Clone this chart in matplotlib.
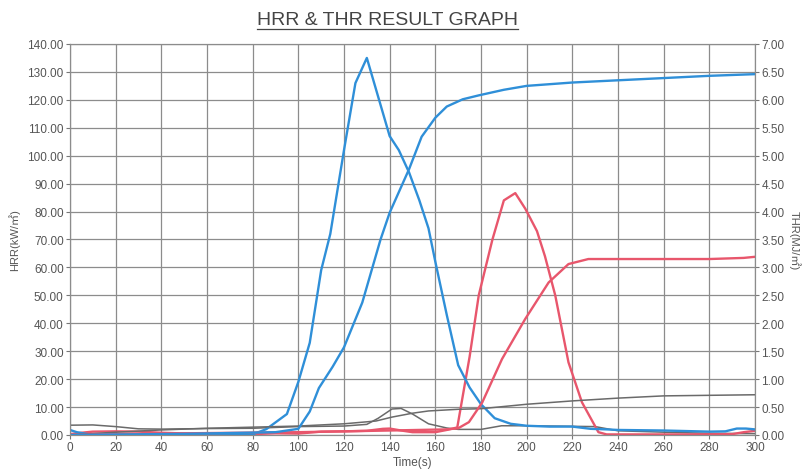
import numpy as np
import matplotlib.pyplot as plt
from matplotlib.lines import Line2D

# Sample 1 (blue)
blue_hrr_t = [0, 3, 8, 20, 40, 60, 80, 86, 90, 95, 100, 105, 110, 114, 120, 125, 130,
              135, 140, 144, 148.5, 153, 157, 160, 165, 170, 175, 180, 186, 193, 200,
              210, 220, 228, 235, 240, 260, 280, 287, 292, 296, 300]
blue_hrr = [1.8, 1.0, 0.3, 0.2, 0.3, 0.2, 0.2, 2.1, 4.5, 7.5, 19, 33, 59, 72, 102, 126, 135,
            121, 107, 102, 94, 84, 74, 62, 43, 25, 17, 11, 6, 4, 3.3,
            3, 3, 2.2, 2, 1.8, 1.6, 1.2, 1.3, 2.3, 2.3, 2]
blue_thr_t = [0, 50, 90, 100, 105, 109, 115, 120, 128, 136, 140, 148.5, 154, 160, 165,
              172, 179, 190, 200, 220, 240, 260, 280, 300]
blue_thr = [0, 0.02, 0.05, 0.11, 0.42, 0.84, 1.22, 1.57, 2.37, 3.5, 3.98, 4.76, 5.34, 5.68, 5.88,
            6.01, 6.08, 6.18, 6.25, 6.31, 6.35, 6.39, 6.43, 6.46]

# Sample 2 (red)
red_hrr_t = [0, 5, 10, 20, 30, 40, 60, 80, 90, 100, 110, 120, 130, 137, 140, 145, 150, 160,
             165, 169.6, 175, 179, 185, 190, 195, 199.4, 204.5, 208, 212.5, 218.3, 224.2,
             231.4, 235, 250, 270, 290, 295, 300]
red_hrr = [0.3, 0.8, 1.2, 1.3, 1.2, 0.8, 0.3, 0.3, 0.6, 0.5, 1.2, 1.3, 1.5, 2.2, 2.3, 1.6, 1.0, 1.0,
           1.8, 2.7, 28, 50, 70, 84, 86.6, 81, 73, 64, 50, 26, 11.7,
           1.0, 0.2, 0.2, 0.2, 0.3, 1.0, 1.5]
red_thr_t = [0, 50, 100, 140, 165, 170, 174.7, 180.5, 189.2, 199.4, 209.6, 218.3, 227, 240,
             280, 295, 300]
red_thr = [0, 0.03, 0.05, 0.08, 0.1, 0.12, 0.23, 0.58, 1.36, 2.08, 2.73, 3.06, 3.15, 3.15,
           3.15, 3.17, 3.19]

# Sample 3 (gray)
gray_hrr_t = [0, 10, 20, 30, 40, 60, 80, 100, 120, 130, 135, 141, 145, 150, 157, 165, 170,
              180, 189, 200, 230, 240, 260, 280, 300]
gray_hrr = [3.5, 3.6, 3.0, 2.2, 2.1, 2.3, 2.4, 3.0, 3.2, 3.8, 6.0, 9.3, 9.5, 7.5, 4.0, 2.5, 2.0,
            2.0, 3.3, 3.3, 3.0, 1.5, 1.0, 0.6, 0.5]
gray_thr_t = [0, 20, 40, 60, 80, 100, 120, 134, 141, 150, 157, 170, 180, 190, 200, 220, 240,
              260, 280, 300]
gray_thr = [0, 0.05, 0.09, 0.12, 0.14, 0.16, 0.2, 0.25, 0.32, 0.39, 0.43, 0.46, 0.47, 0.51, 0.55,
            0.61, 0.66, 0.70, 0.71, 0.72]

font = ['Liberation Sans Narrow', 'DejaVu Sans Condensed', 'Liberation Sans', 'Noto Sans CJK KR']
txt = '#555555'
blue, red, gray = '#2f8fd8', '#e8566c', '#6a6a6a'

fig = plt.figure(figsize=(8.06, 4.77), dpi=100)
ax = fig.add_axes([0.0868, 0.086, 0.85, 0.8197])
ax2 = ax.twinx()

ax.plot(gray_hrr_t, gray_hrr, color=gray, lw=1.1)
ax.plot(red_hrr_t, red_hrr, color=red, lw=1.7)
ax.plot(blue_hrr_t, blue_hrr, color=blue, lw=1.7)
ax2.plot(gray_thr_t, gray_thr, color=gray, lw=1.1)
ax2.plot(red_thr_t, red_thr, color=red, lw=1.7)
ax2.plot(blue_thr_t, blue_thr, color=blue, lw=1.7)

ax.set_xlim(0, 300)
ax.set_ylim(0, 140)
ax2.set_ylim(0, 7)
ax.set_xticks(np.arange(0, 301, 20))
ax.set_yticks(np.arange(0, 141, 10))
ax2.set_yticks(np.arange(0, 7.01, 0.5))
ax.set_yticklabels([f'{v:.2f}' for v in np.arange(0, 141, 10)])
ax2.set_yticklabels([f'{v:.2f}' for v in np.arange(0, 7.01, 0.5)])
ax.grid(True, color='#8c8c8c', lw=0.9)
ax.set_axisbelow(True)

for a in (ax, ax2):
    a.tick_params(length=3, width=0.8, color='#777777', labelcolor=txt, pad=1.5)
    for s in a.spines.values():
        s.set_color('#8c8c8c')
    for lab in a.get_xticklabels() + a.get_yticklabels():
        lab.set_family(font)
        lab.set_fontsize(8.5)

ax.set_xlabel('Time(s)', family=font, fontsize=8.5, color=txt, labelpad=2)
ax.set_ylabel('HRR(kW/㎡)', family=font, fontsize=8, color=txt)
ax2.set_ylabel('THR(MJ/㎡)', family=font, fontsize=8, color=txt, rotation=-90)
ax.yaxis.set_label_coords(-0.082, 0.5)
ax2.yaxis.set_label_coords(1.058, 0.5)
ax2.yaxis.label.set_va('center')
ax.yaxis.label.set_va('center')

title = fig.text(0.481, 0.958, 'HRR & THR RESULT GRAPH', ha='center', va='center',
                 family=font, fontsize=14, color='#444444')
fig.canvas.draw()
bb = title.get_window_extent().transformed(fig.transFigure.inverted())
fig.add_artist(Line2D([bb.x0, bb.x1], [bb.y0 - 0.004, bb.y0 - 0.004],
                      transform=fig.transFigure, color='#444444', lw=0.9))

fig.savefig('out.png', dpi=100)
